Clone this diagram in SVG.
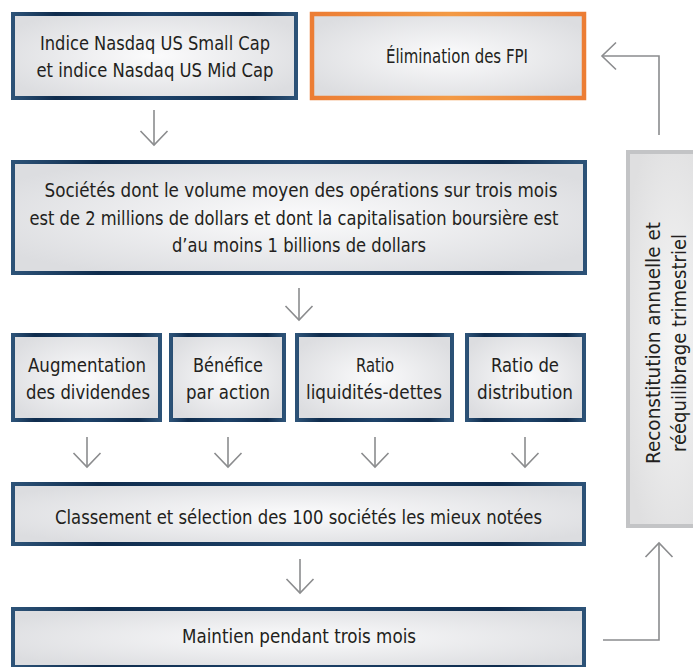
<svg xmlns="http://www.w3.org/2000/svg" width="693" height="667" viewBox="0 0 693 667">
<defs>
<style>
.t{font-family:'Liberation Sans Narrow','DejaVu Sans Condensed','Liberation Sans',sans-serif;font-stretch:condensed;font-size:20px;fill:#231f20;text-anchor:middle}
.nb{fill:url(#fillG);stroke:url(#navyG);stroke-width:4}
.ob{fill:url(#fillG);stroke:url(#orgG);stroke-width:4.5}
.gb{fill:url(#fillGray);stroke:#c3c4c6;stroke-width:4}
.c{fill:none;stroke:#8b8c8e;stroke-width:1.6}
</style>
<radialGradient id="fillG" cx="0.5" cy="0.5" r="0.6">
<stop offset="0" stop-color="#fbfbfc"/>
<stop offset="1" stop-color="#dcdde0"/>
</radialGradient>
<radialGradient id="fillGray" cx="0.5" cy="0.5" r="0.6">
<stop offset="0" stop-color="#f6f6f6"/>
<stop offset="1" stop-color="#dfdfe0"/>
</radialGradient>
<linearGradient id="navyG" x1="0" y1="0" x2="1" y2="0">
<stop offset="0" stop-color="#2c5277"/>
<stop offset="0.15" stop-color="#0f2c4d"/>
<stop offset="0.5" stop-color="#1d4269"/>
<stop offset="0.85" stop-color="#0f2c4d"/>
<stop offset="1" stop-color="#2c5277"/>
</linearGradient>
<linearGradient id="orgG" x1="0" y1="0" x2="1" y2="0">
<stop offset="0" stop-color="#ec7d34"/>
<stop offset="0.5" stop-color="#f39a45"/>
<stop offset="1" stop-color="#ec7d34"/>
</linearGradient>
<marker id="ah" viewBox="-16 -16 18 32" markerWidth="18" markerHeight="32" refX="0" refY="0" markerUnits="userSpaceOnUse" orient="auto">
<path d="M-14,-13.5 L0,0 L-14,13.5" fill="none" stroke="#8b8c8e" stroke-width="1.6"/>
</marker>
</defs>
<rect width="693" height="667" fill="#ffffff"/>

<g id="n-indices">
<rect class="nb" x="13" y="14" width="283" height="84"/>
<text class="t" x="155" y="49.5" textLength="230" lengthAdjust="spacingAndGlyphs">Indice Nasdaq US Small Cap</text>
<text class="t" x="155" y="76.5" textLength="237" lengthAdjust="spacingAndGlyphs">et indice Nasdaq US Mid Cap</text>
</g>

<g id="n-fpi">
<rect class="ob" x="312" y="14" width="272" height="84"/>
<text class="t" x="457" y="63" textLength="142" lengthAdjust="spacingAndGlyphs">Élimination des FPI</text>
</g>

<g id="n-societes">
<rect class="nb" x="13" y="162" width="572" height="111"/>
<text class="t" x="301" y="197" textLength="513" lengthAdjust="spacingAndGlyphs">Sociétés dont le volume moyen des opérations sur trois mois</text>
<text class="t" x="294" y="224.5" textLength="529" lengthAdjust="spacingAndGlyphs">est de 2 millions de dollars et dont la capitalisation boursière est</text>
<text class="t" x="299" y="252" textLength="254" lengthAdjust="spacingAndGlyphs">d’au moins 1 billions de dollars</text>
</g>

<g id="n-dividendes">
<rect class="nb" x="13" y="335" width="147" height="85"/>
<text class="t" x="87" y="371.5" textLength="118" lengthAdjust="spacingAndGlyphs">Augmentation</text>
<text class="t" x="88" y="398.5" textLength="124" lengthAdjust="spacingAndGlyphs">des dividendes</text>
</g>

<g id="n-benefice">
<rect class="nb" x="171" y="335" width="113" height="85"/>
<text class="t" x="228" y="371.5" textLength="70" lengthAdjust="spacingAndGlyphs">Bénéfice</text>
<text class="t" x="228" y="398.5" textLength="84" lengthAdjust="spacingAndGlyphs">par action</text>
</g>

<g id="n-liquidites">
<rect class="nb" x="297" y="335" width="155" height="85"/>
<text class="t" x="375" y="371.5" textLength="38" lengthAdjust="spacingAndGlyphs">Ratio</text>
<text class="t" x="374" y="398.5" textLength="136" lengthAdjust="spacingAndGlyphs">liquidités-dettes</text>
</g>

<g id="n-distribution">
<rect class="nb" x="467" y="335" width="117" height="85"/>
<text class="t" x="525" y="371.5" textLength="68" lengthAdjust="spacingAndGlyphs">Ratio de</text>
<text class="t" x="525" y="398.5" textLength="96" lengthAdjust="spacingAndGlyphs">distribution</text>
</g>

<g id="n-classement">
<rect class="nb" x="13" y="484" width="571" height="60"/>
<text class="t" x="298.5" y="524" textLength="487" lengthAdjust="spacingAndGlyphs">Classement et sélection des 100 sociétés les mieux notées</text>
</g>

<g id="n-maintien">
<rect class="nb" x="13" y="609" width="571" height="58"/>
<text class="t" x="299" y="643" textLength="234" lengthAdjust="spacingAndGlyphs">Maintien pendant trois mois</text>
</g>

<g id="n-reconstitution">
<rect class="gb" x="628" y="152" width="90" height="374"/>
<g transform="translate(660,343) rotate(-90)">
<text class="t" x="0" y="0" textLength="242" lengthAdjust="spacingAndGlyphs">Reconstitution annuelle et</text>
<text class="t" x="0" y="26" textLength="218" lengthAdjust="spacingAndGlyphs">rééquilibrage trimestriel</text>
</g>
</g>

<g id="connectors">
<line class="c" x1="154" y1="110" x2="154" y2="145" marker-end="url(#ah)"/>
<line class="c" x1="299" y1="288" x2="299" y2="320" marker-end="url(#ah)"/>
<line class="c" x1="87" y1="437" x2="87" y2="467" marker-end="url(#ah)"/>
<line class="c" x1="228" y1="437" x2="228" y2="467" marker-end="url(#ah)"/>
<line class="c" x1="375" y1="437" x2="375" y2="467" marker-end="url(#ah)"/>
<line class="c" x1="525" y1="437" x2="525" y2="467" marker-end="url(#ah)"/>
<line class="c" x1="300" y1="559" x2="300" y2="593" marker-end="url(#ah)"/>
<polyline class="c" points="603,640 659,640 659,543" marker-end="url(#ah)"/>
<polyline class="c" points="659,135 659,56 602,56" marker-end="url(#ah)"/>
</g>
</svg>
